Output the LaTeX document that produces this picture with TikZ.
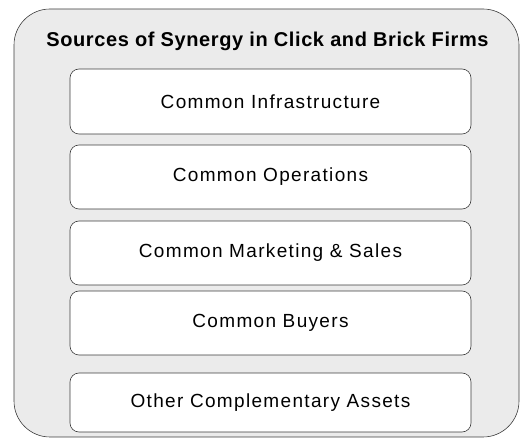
\documentclass[tikz,border=0pt]{standalone}
\usepackage{fontspec}
\setmainfont{Liberation Sans}
\usetikzlibrary{positioning}
\definecolor{PanelGray}{RGB}{235,235,235}
\definecolor{EdgeGray}{RGB}{60,60,60}
\tikzset{
  panel/.style={draw=EdgeGray,fill=PanelGray,semithick,rounded corners=36pt,
    minimum width=505pt,minimum height=428pt,inner sep=0pt},
  source/.style={draw=EdgeGray,fill=white,semithick,rounded corners=9pt,
    minimum width=401pt,minimum height=64pt,inner sep=0pt,align=center,
    font=\fontsize{19}{22}\selectfont\addfontfeatures{LetterSpace=7}},
  heading/.style={font=\fontsize{20}{24}\selectfont\bfseries\addfontfeatures{LetterSpace=3}}
}

\begin{document}
\begin{tikzpicture}[x=1pt,y=-1pt]
      \useasboundingbox (0,0) rectangle (520,438);
      \node[panel] (frame) at (266.5,223) {};
      \node[heading] (title) at (267.5,41) {Sources of Synergy in Click and Brick Firms};
      \node[source,minimum height=65pt] (infra) at (270.5,101.5) {Common Infrastructure};
      \node[source] (ops) at (270.5,177) {Common Operations};
      \node[source] (mkt) at (270.5,253) {Common Marketing \& Sales};
      \node[source] (buy) at (270.5,323) {Common Buyers};
      \node[source,minimum height=59pt] (other) at (270.5,402.5) {Other Complementary Assets};
    \end{tikzpicture}
\end{document}
